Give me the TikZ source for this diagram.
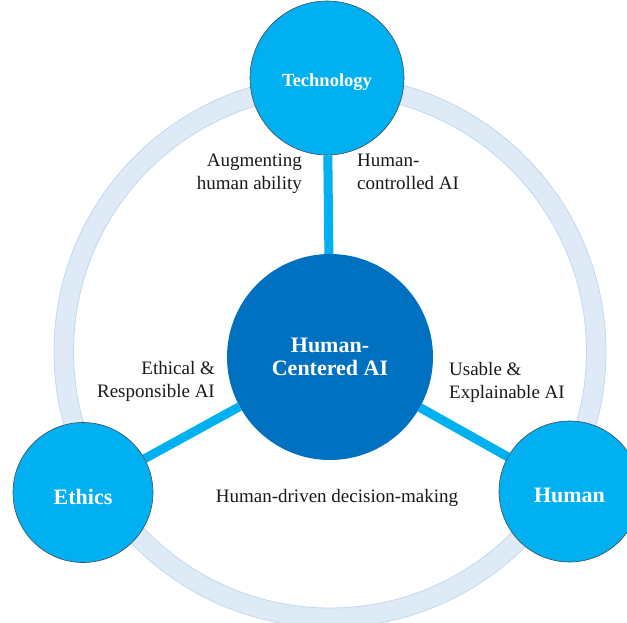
\documentclass[tikz,border=0pt]{standalone}
\usepackage{fontspec}
\setmainfont{Liberation Serif}
\usepackage{tikz}
\usetikzlibrary{backgrounds}
\definecolor{hcblue}{HTML}{0070C0}
\definecolor{pillarblue}{HTML}{00B0F0}
\definecolor{pillaredge}{HTML}{3F4A55}
\definecolor{ringfill}{HTML}{DEEAF6}
\definecolor{ringedge}{HTML}{C3D8EF}

\begin{document}
\begin{tikzpicture}[
    x=1pt, y=-1pt,
    hub/.style={circle, fill=hcblue, minimum size=206pt, inner sep=0pt, align=center, text=white, font=\bfseries\fontsize{22}{23}\selectfont},
    pillar/.style={circle, fill=pillarblue, draw=pillaredge, line width=0.6pt, inner sep=0pt, text=white, text depth=0pt, font=\bfseries\fontsize{22}{24}\selectfont},
    link/.style={line width=9pt, draw=pillarblue},
    lbl/.style={align=left, inner sep=0pt, text=black!90, font=\fontsize{19}{23}\selectfont}
  ]
  \useasboundingbox (0,0) rectangle (627,623);

  \node[hub] (hcai) at (330,357) {Human-\\Centered AI};
  \node[pillar, minimum size=154pt, text height=18pt, font=\bfseries\fontsize{18.5}{22}\selectfont] (tech) at (327,78) {Technology};
  \node[pillar, minimum size=140pt, text height=24pt] (ethics) at (83,492.5) {Ethics};
  \node[pillar, minimum size=141pt, text height=21pt] (human) at (569.5,491.5) {Human};

  \node[lbl, align=right, anchor=east] (augment) at (302,173.5) {Augmenting\\human ability};
  \node[lbl, anchor=west] (control) at (357,172) {Human-\\controlled AI};
  \node[lbl, align=right, anchor=east] (ethical) at (215,381) {Ethical \&\\Responsible AI};
  \node[lbl, anchor=west] (usable) at (449,382) {Usable \&\\Explainable AI};
  \node[lbl] (decision) at (337,498) {Human-driven decision-making};

  % ring and spokes behind the circles
  \begin{scope}[on background layer]
    \draw[ringfill, line width=19.5pt] (330,351.5) circle (266.25pt);
    \draw[ringedge, line width=0.8pt] (330,351.5) circle (256.5pt);
    \draw[ringedge, line width=0.8pt] (330,351.5) circle (276pt);
    \draw[link] (hcai) -- (tech);
    \draw[link] (hcai) -- (ethics);
    \draw[link] (hcai) -- (human);
  \end{scope}
\end{tikzpicture}
\end{document}
